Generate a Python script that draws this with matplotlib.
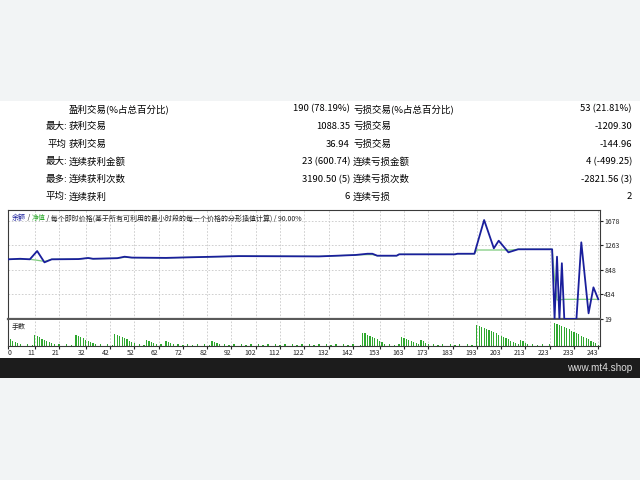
import numpy as np
import matplotlib.pyplot as plt
from matplotlib.patches import Rectangle

plt.rcParams['font.family'] = ['Noto Sans CJK SC', 'DejaVu Sans']

# summary table
row_prefix = ['', '最大:', '平均', '最大:', '最多:', '平均:']
win_labels = ['盈利交易(%占总百分比)', '获利交易', '获利交易', '连续获利金额', '连续获利次数', '连续获利']
win_values = ['190 (78.19%)', '1088.35', '36.94', '23 (600.74)', '3190.50 (5)', '6']
loss_labels = ['亏损交易(%占总百分比)', '亏损交易', '亏损交易', '连续亏损金额', '连续亏损次数', '连续亏损']
loss_values = ['53 (21.81%)', '-1209.30', '-144.96', '4 (-499.25)', '-2821.56 (3)', '2']

# balance curve (trade number, balance)
balance_trade = [0, 5, 9, 12, 15, 18, 29, 33, 35, 45, 48, 51, 65, 95, 128, 143, 148, 150, 152, 160,
                 161, 184, 185, 192, 196, 200, 202, 206, 210, 224, 225, 226, 227, 228, 229, 234, 236, 239, 241, 243]
balance = [1026, 1035, 1026, 1166, 975, 1026, 1030, 1048, 1035, 1045, 1070, 1055, 1050, 1080, 1075, 1099, 1120, 1120, 1087, 1087,
           1110, 1110, 1120, 1120, 1689, 1212, 1340, 1144, 1195, 1195, 19, 1070, 19, 960, 19, 19, 1313, 115, 553, 351]

# equity curve
equity_trade = [0, 9, 12, 15, 18, 29, 33, 35, 45, 48, 51, 65, 95, 128, 143, 148, 150, 152, 160, 161,
                184, 185, 192, 193, 207, 210, 224, 225, 226, 229, 243]
equity = [1026, 1026, 1010, 990, 1026, 1030, 1048, 1035, 1045, 1060, 1055, 1050, 1080, 1075, 1099, 1105, 1105, 1087, 1087, 1110,
          1110, 1120, 1120, 1183, 1183, 1195, 1195, 700, 340, 351, 351]

# lot size per trade (x0.01)
lots = [8, 7, 5, 4, 3, 2,
        0, 0, 2, 0, 1,
        11, 10, 9, 7, 6, 5, 4, 3, 2,
        0, 2, 0, 0, 2, 0, 1, 0,
        11, 10, 9, 8, 6, 5, 4, 3, 2,
        0, 2, 0, 0, 2, 0, 1,
        12, 11, 10, 9, 8, 7, 5, 4, 3,
        0, 2, 0, 1,
        6, 5, 4, 3, 2,
        0, 2, 0,
        5, 4, 3, 2,
        0, 2, 0, 1, 0, 2, 0, 1, 0, 2, 0, 0, 2, 0, 1,
        5, 4, 3, 2,
        0, 2, 0, 1, 0, 2, 0, 0, 2, 0, 1, 0, 2, 0, 0, 2, 0, 1, 0, 2,
        0, 0, 2, 0, 1, 0, 2, 0, 0, 2, 0, 1, 0, 2, 0, 0, 2, 0, 1, 0,
        2, 0, 0, 2, 0, 1, 0, 2, 0, 0, 2, 0, 1, 0, 2, 0, 0, 1,
        13, 13, 11, 10, 9, 8, 7, 5, 4, 2,
        0, 2, 0, 1, 0, 2,
        9, 8, 7, 6, 5, 4, 3, 2,
        6, 5, 3, 2,
        0, 2, 0, 1, 0, 2, 0, 0, 2, 0, 1, 0, 2, 0, 0, 2, 0, 1, 0,
        21, 20, 19, 18, 17, 16, 15, 14, 13, 11, 10, 9, 8, 7, 5, 4, 3, 2,
        6, 5, 3, 2, 0, 2, 0, 1, 0, 2, 0, 0, 2, 0,
        23, 22, 21, 20, 19, 18, 17, 15, 14, 13, 12, 10, 9, 8, 7, 5, 4, 3, 1]

x_ticks = [0, 11, 21, 32, 42, 52, 62, 72, 82, 92, 102, 112, 122, 132, 142, 153, 163, 173, 183, 193, 203, 213, 223, 233, 243]
y_ticks = [19, 434, 848, 1263, 1678]

W, H = 640, 480


def fx(x):
    return x / W


def fy(y):
    return 1 - y / H


fig = plt.figure(figsize=(6.4, 4.8), dpi=100, facecolor='#f2f4f5')
fig.patches.append(Rectangle((0, fy(358)), 1, (358 - 101) / H, transform=fig.transFigure,
                             facecolor='white', edgecolor='none', zorder=-5))
fig.patches.append(Rectangle((0, fy(378)), 1, 20 / H, transform=fig.transFigure,
                             facecolor='#1c1c1c', edgecolor='none', zorder=-5))
fig.text(fx(632), fy(368), 'www.mt4.shop', ha='right', va='center', color='#dcdcdc',
         fontsize=7.2, family='Liberation Sans')

# table
row_y = [109, 126.7, 144.3, 161.7, 179.3, 196.7]
fs = 6.8
for i in range(len(row_y)):
    y = fy(row_y[i])
    fig.text(fx(67), y, row_prefix[i], ha='right', va='center', fontsize=fs)
    fig.text(fx(69), y, win_labels[i], ha='left', va='center', fontsize=fs)
    fig.text(fx(350), y, win_values[i], ha='right', va='center', fontsize=fs)
    fig.text(fx(353), y, loss_labels[i], ha='left', va='center', fontsize=fs)
    fig.text(fx(632), y, loss_values[i], ha='right', va='center', fontsize=fs)

# main chart
x_max = 243.7
ax = fig.add_axes([fx(8), fy(319), (600 - 8) / W, (319 - 210) / H])
ax.plot(equity_trade, equity, color='#7fcc7f', lw=0.9, zorder=2)
ax.plot(balance_trade, balance, color='#1a1f9c', lw=1.3, zorder=3)
ax.set_xlim(0, x_max)
ax.set_ylim(19, 1858)
ax.set_xticks(x_ticks)
ax.set_xticklabels([])
ax.set_yticks(y_ticks)
ax.yaxis.tick_right()
ax.tick_params(axis='y', labelsize=5, length=2, pad=1, colors='#222222')
ax.tick_params(axis='x', length=0)
ax.grid(True, color='#c8c8c8', linestyle=(0, (2, 2)), lw=0.6)
for s in ax.spines.values():
    s.set_color('#3a3a3a')
    s.set_linewidth(0.8)
ax.spines['bottom'].set_linewidth(1.6)
ax.spines['bottom'].set_color('#5a5a5a')

header = [('余额', '#1a1f9c'), (' / ', '#222222'), ('净值', '#2eaa2e'),
          (' / 每个即时价格(基于所有可利用的最小时段的每一个价格的分形插值计算) / 90.00%', '#222222')]
t = ax.text(0.006, 0.96, header[0][0], transform=ax.transAxes, fontsize=5, color=header[0][1], va='top')
for txt, col in header[1:]:
    t = ax.annotate(txt, xycoords=t, xy=(1, 0), va='bottom', fontsize=5, color=col)

# volume panel
axv = fig.add_axes([fx(8), fy(346), (600 - 8) / W, (346 - 320) / H])
axv.bar(np.arange(len(lots)), lots, width=0.5, color='#2fa82f', zorder=2)
axv.set_xlim(0, x_max)
axv.set_ylim(0, 26)
axv.set_yticks([])
axv.set_xticks(x_ticks)
axv.set_xticklabels([str(v) for v in x_ticks])
axv.tick_params(axis='x', labelsize=5, length=2, pad=0.5, colors='#222222')
labels = axv.get_xticklabels()
for lab in labels:
    lab.set_ha('right')
labels[0].set_ha('left')
axv.grid(True, axis='x', color='#c8c8c8', linestyle=(0, (2, 2)), lw=0.6)
for s in axv.spines.values():
    s.set_color('#3a3a3a')
    s.set_linewidth(0.8)
axv.spines['top'].set_visible(False)
axv.text(0.006, 0.9, '手数', transform=axv.transAxes, fontsize=5, va='top', color='#222222')

fig.savefig('out.png', dpi=100, facecolor=fig.get_facecolor())
